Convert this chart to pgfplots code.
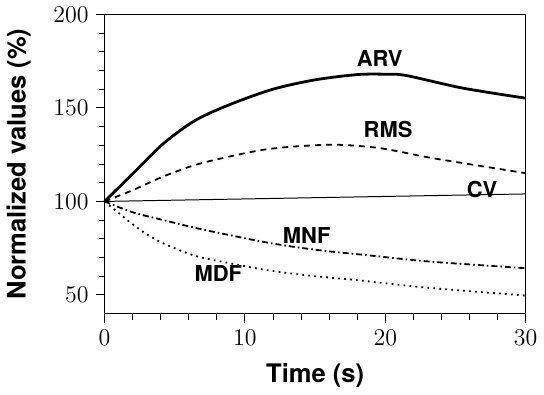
\documentclass[border=0pt]{standalone}
\usepackage{pgfplots}
\pgfplotsset{compat=1.18}
\usepackage{fontspec}
\newfontfamily\hv{TeX Gyre Heros}
\begin{document}
\begin{tikzpicture}
\begin{axis}[
  scale only axis, width=211pt, height=150pt,
  xmin=0, xmax=30, ymin=40, ymax=200,
  xtick={0,10,20,30}, minor x tick num=4,
  ytick={50,100,150,200}, minor y tick num=4,
  tick align=outside, xtick pos=bottom, ytick pos=left,
  major tick length=4.5pt, minor tick length=3pt,
  axis line style={line width=0.8pt},
  every tick/.style={black, line width=0.5pt},
  ticklabel style={font=\fontsize{11.5}{13}\selectfont},
  xlabel={Time (s)}, ylabel={Normalized values (\%)},
  label style={font=\hv\bfseries\fontsize{12.8}{14}\selectfont},
  xlabel style={at={(axis description cs:0.5,-0.207)}, anchor=center},
  ylabel style={at={(axis description cs:-0.204,0.5)}, anchor=center},
  clip=false,
]
\addplot[black, line width=1.4pt, smooth, tension=0.5] coordinates {
(0,100)(2.1,115.5)(4.2,131)(6.5,143.5)(9,152)(12,160)(15,165)(18,167.8)(20,168)(21.5,167.3)(25.5,160.6)(30,155.2)};
\addplot[black, line width=0.9pt, smooth, tension=0.5, dash pattern=on 3pt off 2.5pt] coordinates {
(0,100)(2,106)(4.2,113.4)(6.5,119.6)(8.9,124)(11.3,127.6)(13.6,129.4)(16.5,130.3)(19.6,128.5)(23.1,123.5)(26.5,119.3)(30,115.1)};
\addplot[black, line width=0.5pt] coordinates {(0,100)(30,104)};
\addplot[black, line width=0.9pt, smooth, tension=0.5, dash pattern=on 3pt off 1.5pt on 0.8pt off 1.5pt] coordinates {
(0,100)(2,94.2)(4.2,90)(6.5,85.8)(8.9,82)(11.3,78.4)(13.6,75.6)(16,73.3)(18.4,71.5)(23.1,67.9)(30,64.3)};
\addplot[black, line width=0.9pt, smooth, tension=0.5, dash pattern=on 0.9pt off 2.1pt] coordinates {
(0,100)(1,93.8)(2,87.8)(3,82.5)(4.2,77.5)(6.5,70.8)(8.9,67)(11.3,63.6)(13.6,61.2)(16,59.3)(18.4,57.6)(23.1,53.8)(30,49.7)};
\begin{scope}[every node/.style={font=\hv\bfseries\fontsize{11}{13}\selectfont}]
\node at (axis cs:19.6,176.5) {ARV};
\node at (axis cs:20.2,138.5) {RMS};
\node at (axis cs:26.9,106.4) {CV};
\node at (axis cs:14.4,81.8) {MNF};
\node at (axis cs:8.1,61.5) {MDF};
\end{scope}
\end{axis}
\end{tikzpicture}
\end{document}
